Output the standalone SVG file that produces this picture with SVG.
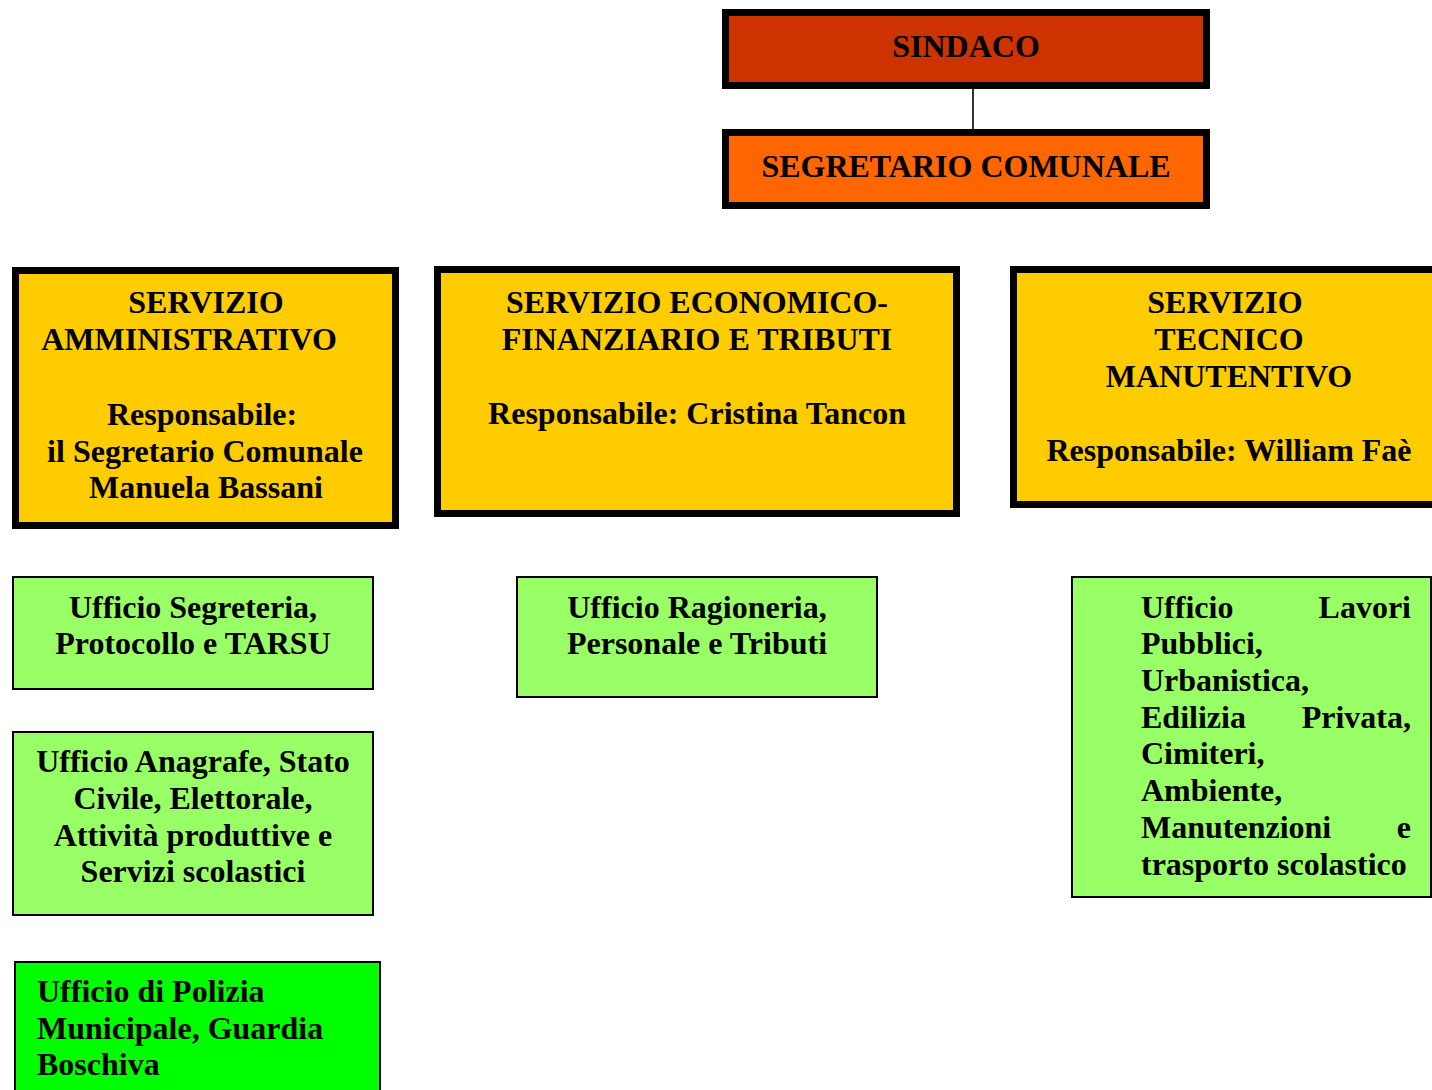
<svg xmlns="http://www.w3.org/2000/svg" width="1432" height="1090" viewBox="0 0 1432 1090">
<style>
text{font-family:"Liberation Serif","Times New Roman",serif;font-weight:bold;font-size:32px;fill:#000}
.c{text-anchor:middle}
.e{text-anchor:end}
.thick{stroke:#000;stroke-width:7}
.thin{stroke:#000;stroke-width:2}
.sind{fill:#CC3300}
.seg{fill:#FF6600}
.serv{fill:#FFCC00}
.uff{fill:#99FF66}
.pol{fill:#00FF00}
.conn{stroke:#333;stroke-width:2;fill:none}
</style>
<rect width="1432" height="1090" fill="#fff"/>
<g id="connectors">
<line class="conn" x1="973" y1="89" x2="973" y2="129"/>
</g>
<g id="sindaco">
<rect class="sind thick" x="725.5" y="12.5" width="481" height="73"/>
<text class="c" x="966" y="57">SINDACO</text>
</g>
<g id="segretario">
<rect class="seg thick" x="725.5" y="132.5" width="481" height="73"/>
<text class="c" x="966" y="177">SEGRETARIO COMUNALE</text>
</g>
<g id="servizio-amministrativo">
<rect class="serv thick" x="15.5" y="270.5" width="380" height="255"/>
<text class="c"><tspan x="206" y="313">SERVIZIO</tspan><tspan x="189" y="350">AMMINISTRATIVO</tspan><tspan x="202" y="425">Responsabile:</tspan><tspan x="205" y="462">il Segretario Comunale</tspan><tspan x="206" y="498">Manuela Bassani</tspan></text>
</g>
<g id="servizio-economico">
<rect class="serv thick" x="437.5" y="269.5" width="519" height="244"/>
<text class="c"><tspan x="697" y="313">SERVIZIO ECONOMICO-</tspan><tspan x="697" y="350">FINANZIARIO E TRIBUTI</tspan><tspan x="697" y="424">Responsabile: Cristina Tancon</tspan></text>
</g>
<g id="servizio-tecnico">
<rect class="serv thick" x="1013.5" y="269.5" width="430" height="235"/>
<text class="c"><tspan x="1225" y="313">SERVIZIO</tspan><tspan x="1229" y="350">TECNICO</tspan><tspan x="1229" y="387">MANUTENTIVO</tspan><tspan x="1229" y="461">Responsabile: William Faè</tspan></text>
</g>
<g id="ufficio-segreteria">
<rect class="uff thin" x="13" y="577" width="360" height="112"/>
<text class="c"><tspan x="193" y="618">Ufficio Segreteria,</tspan><tspan x="193" y="654">Protocollo e TARSU</tspan></text>
</g>
<g id="ufficio-anagrafe">
<rect class="uff thin" x="13" y="732" width="360" height="183"/>
<text class="c"><tspan x="193" y="772">Ufficio Anagrafe, Stato</tspan><tspan x="193" y="809">Civile, Elettorale,</tspan><tspan x="193" y="846">Attività produttive e</tspan><tspan x="193" y="882">Servizi scolastici</tspan></text>
</g>
<g id="ufficio-polizia">
<rect class="pol thin" x="15" y="962" width="365" height="140"/>
<text><tspan x="37" y="1002">Ufficio di Polizia</tspan><tspan x="37" y="1039">Municipale, Guardia</tspan><tspan x="37" y="1075">Boschiva</tspan></text>
</g>
<g id="ufficio-ragioneria">
<rect class="uff thin" x="517" y="577" width="360" height="120"/>
<text class="c"><tspan x="697" y="618">Ufficio Ragioneria,</tspan><tspan x="697" y="654">Personale e Tributi</tspan></text>
</g>
<g id="ufficio-lavori">
<rect class="uff thin" x="1072" y="577" width="359" height="320"/>
<text><tspan x="1141" y="618">Ufficio</tspan><tspan class="e" x="1411" y="618">Lavori</tspan><tspan x="1141" y="654">Pubblici,</tspan><tspan x="1141" y="691">Urbanistica,</tspan><tspan x="1141" y="728">Edilizia</tspan><tspan class="e" x="1411" y="728">Privata,</tspan><tspan x="1141" y="764">Cimiteri,</tspan><tspan x="1141" y="801">Ambiente,</tspan><tspan x="1141" y="838">Manutenzioni</tspan><tspan class="e" x="1411" y="838">e</tspan><tspan x="1141" y="875">trasporto scolastico</tspan></text>
</g>
</svg>
